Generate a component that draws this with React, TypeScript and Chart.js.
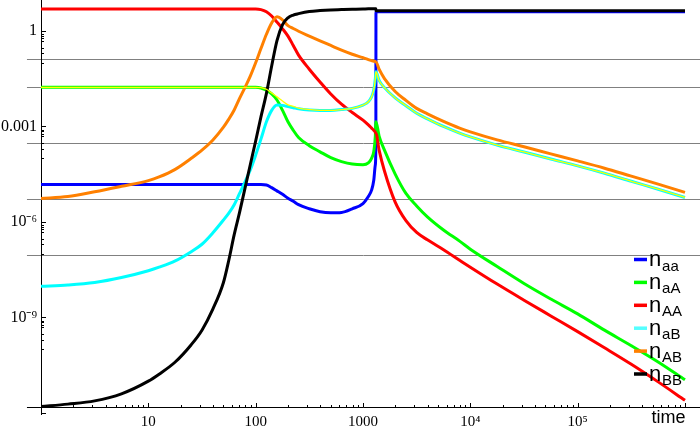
import { useEffect, useRef } from "react";
import { Chart, registerables } from "chart.js";

Chart.register(...registerables);

// time samples
const TIME = [
  1, 1.78, 3.16, 5.62, 10,
  12.6, 17.8, 25.1, 31.6, 39.8,
  50.1, 56.2, 63.1, 70.8, 79.4,
  89.1, 100, 112, 126, 141,
  158, 178, 200, 224, 251,
  316, 398, 501, 631, 794,
  1000, 1122, 1202, 1259, 1303,
  1318, 1321, 1413, 1585, 1995,
  2512, 3162, 3981, 5623, 7943,
  1e4, 17783, 31623, 56234, 1e5,
  177828, 316228, 562341, 1e6,
];

const N_aa = [
  1.5e-5, 1.5e-5, 1.5e-5, 1.5e-5, 1.5e-5,
  1.5e-5, 1.5e-5, 1.5e-5, 1.5e-5, 1.5e-5,
  1.5e-5, 1.5e-5, 1.5e-5, 1.5e-5, 1.5e-5,
  1.5e-5, 1.5e-5, 1.5e-5, 1.45e-5, 1.2e-5,
  9.5e-6, 7.4e-6, 5.6e-6, 4.5e-6, 3.5e-6,
  2.6e-6, 2.1e-6, 1.95e-6, 2.0e-6, 2.6e-6,
  3.8e-6, 6.3e-6, 1.0e-5, 2.0e-5, 6.3e-5,
  3.2e-4, 4.0, 4.0, 4.0, 4.0,
  4.0, 4.0, 4.0, 4.0, 4.0,
  4.0, 4.0, 4.0, 4.0, 4.0,
  4.0, 4.0, 4.0, 4.0,
];

const N_aA = [
  0.017, 0.017, 0.017, 0.017, 0.017,
  0.017, 0.017, 0.017, 0.017, 0.017,
  0.017, 0.017, 0.017, 0.017, 0.017,
  0.017, 0.017, 0.0162, 0.0138, 0.0105,
  0.0068, 0.0032, 0.0014, 7.6e-4, 4.5e-4,
  2.5e-4, 1.6e-4, 1.05e-4, 7.9e-5, 6.6e-5,
  6.3e-5, 7.2e-5, 1.0e-4, 1.6e-4, 5e-4,
  1.4e-3, 1.4e-3, 5e-4, 1.8e-4, 3.2e-5,
  7.9e-6, 3.2e-6, 1.45e-6, 5.6e-7, 2.5e-7,
  1.4e-7, 4.0e-8, 1.17e-8, 3.8e-9, 1.3e-9,
  4.0e-10, 1.3e-10, 4.0e-11, 1.1e-11,
];

const N_AA = [
  4.9, 4.9, 4.9, 4.9, 4.9,
  4.9, 4.9, 4.9, 4.9, 4.9,
  4.9, 4.9, 4.9, 4.9, 4.9,
  4.9, 4.9, 4.7, 4.0, 2.95,
  1.9, 1.17, 0.69, 0.35, 0.174,
  0.063, 0.025, 0.0105, 0.005, 0.00275,
  0.00158, 0.00112, 8.9e-4, 7.6e-4, 6.6e-4,
  6.0e-4, 6.0e-4, 1.8e-4, 4.0e-5, 4.2e-6,
  1.1e-6, 4.7e-7, 2.75e-7, 1.35e-7, 6.3e-8,
  3.8e-8, 1.12e-8, 3.5e-9, 1.12e-9, 3.6e-10,
  1.12e-10, 3.4e-11, 9.5e-12, 2.5e-12,
];

const N_aB = [
  9.5e-9, 1.05e-8, 1.26e-8, 1.8e-8, 2.95e-8,
  3.8e-8, 6.0e-8, 1.17e-7, 2.0e-7, 4.5e-7,
  1.15e-6, 1.9e-6, 3.5e-6, 7.9e-6, 1.8e-5,
  4.3e-5, 1.26e-4, 4.0e-4, 0.0014, 0.0032,
  0.0047, 0.0046, 0.0042, 0.0039, 0.0036,
  0.0033, 0.0032, 0.0032, 0.0034, 0.0037,
  0.0047, 0.006, 0.0085, 0.014, 0.032,
  0.052, 0.052, 0.028, 0.0166, 0.0079,
  0.0045, 0.0026, 0.00174, 0.001, 6.2e-4,
  4.7e-4, 2.6e-4, 1.58e-4, 9.5e-5, 5.8e-5,
  3.4e-5, 1.9e-5, 1.07e-5, 5.9e-6,
];

const N_AB = [
  5.5e-6, 6.3e-6, 8.9e-6, 1.32e-5, 2.0e-5,
  2.6e-5, 4.5e-5, 1.0e-4, 1.8e-4, 3.7e-4,
  0.00095, 0.0017, 0.0033, 0.0076, 0.0166,
  0.038, 0.1, 0.28, 0.79, 1.78,
  2.8, 2.24, 1.48, 1.2, 0.98,
  0.69, 0.49, 0.35, 0.25, 0.186,
  0.145, 0.126, 0.117, 0.112, 0.11,
  0.107, 0.107, 0.063, 0.032, 0.0126,
  0.0066, 0.0037, 0.0025, 0.00145, 8.9e-4,
  6.8e-4, 3.8e-4, 2.3e-4, 1.38e-4, 8.3e-5,
  4.9e-5, 2.75e-5, 1.55e-5, 8.5e-6,
];

const N_BB = [
  1.6e-12, 1.9e-12, 2.4e-12, 4.0e-12, 1.0e-11,
  1.66e-11, 4.0e-11, 1.4e-10, 4.0e-10, 1.8e-9,
  1.26e-8, 6.3e-8, 4.0e-7, 2.0e-6, 1.12e-5,
  6.3e-5, 3.5e-4, 0.002, 0.011, 0.079,
  0.5, 1.58, 2.6, 3.16, 3.5,
  4.1, 4.4, 4.6, 4.7, 4.8,
  4.9, 5.0, 5.0, 5.0, 5.0,
  5.0, 4.3, 4.3, 4.3, 4.3,
  4.3, 4.3, 4.3, 4.3, 4.3,
  4.3, 4.3, 4.3, 4.3, 4.3,
  4.3, 4.3, 4.3, 4.3,
];

// thin yellow trace (not in legend)
const N_TRACE = [
  0.017, 0.017, 0.017, 0.017, 0.017,
  0.017, 0.017, 0.017, 0.017, 0.017,
  0.017, 0.017, 0.017, 0.017, 0.017,
  0.017, 0.017, 0.0166, 0.0148, 0.0112,
  0.0085, 0.0063, 0.0048, 0.0043, 0.0038,
  0.0034, 0.0032, 0.0032, 0.0034, 0.0037,
  0.0047, 0.006, 0.0085, 0.014, 0.032,
  0.052, 0.052, 0.028, 0.0166, 0.0079,
  0.0045, 0.0026, 0.00174, 0.001, 6.2e-4,
  4.7e-4, 2.6e-4, 1.58e-4, 9.5e-5, 5.8e-5,
  3.4e-5, 1.9e-5, 1.07e-5, 5.9e-6,
];

const SERIES = [N_aa, N_aA, N_AA, N_aB, N_AB, N_BB];
const SERIES_SUBS = ["aa", "aA", "AA", "aB", "AB", "BB"];
const SERIES_COLORS = ["#0000ff", "#00ff00", "#ff0000", "#00ffff", "#ff8000", "#000000"];
const LEGEND_COLORS = ["#0000ff", "#00ff00", "#ff0000", "#55ffff", "#ff8000", "#000000"];
const SERIES_ORDER = [6, 5, 4, 3, 2, 1];
const TRACE_COLOR = "#ffff00";

const X_TICKS = [10, 100, 1000, 1e4, 1e5];
const X_TICK_LABELS = ["10", "100", "1000", "10\u2074", "10\u2075"];
const Y_TICKS = [1e-9, 1e-6, 1e-3, 1];
const Y_TICK_LABELS = ["10\u207B\u2079", "10\u207B\u2076", "0.001", "1"];
const Y_MAJOR_MARKS = [1, 1e-3, 1e-6, 1e-9, 1e-12];
const Y_MINOR_FACTORS = [0.8, 0.7, 0.6, 0.5, 0.3, 0.2, 0.1];
const X_DECADES = [1, 10, 100, 1000, 1e4, 1e5, 1e6];
const X_MINOR_FACTORS = [2, 3, 4, 5, 6, 7, 8, 9];
const GRID_LEVELS = [0.1318, 0.01738, 3.02e-4, 5.25e-6, 9.12e-8];

const X_MIN = 1;
const X_MAX = 1.38e6;
const Y_MIN = 1e-12;
const Y_MAX = 9.4;
const AXIS_CROSS_Y = 1.6e-12;
const AXIS_X_START = 0.74;

const SERIF = "'Liberation Serif', 'Times New Roman', serif";
const SANS = "'Liberation Sans', Arial, Helvetica, sans-serif";

const decorPlugin = {
  id: "decor",
  beforeDatasetsDraw(chart: any) {
    const ctx = chart.ctx;
    const xs = chart.scales.x;
    const ys = chart.scales.y;
    const left = xs.getPixelForValue(AXIS_X_START);
    const right = chart.width;
    ctx.save();
    ctx.lineWidth = 1;
    ctx.strokeStyle = "#808080";
    GRID_LEVELS.forEach((v) => {
      const py = Math.round(ys.getPixelForValue(v)) + 0.5;
      ctx.beginPath();
      ctx.moveTo(left, py);
      ctx.lineTo(right, py);
      ctx.stroke();
    });
    ctx.strokeStyle = "#000";
    const ax = Math.round(xs.getPixelForValue(1)) + 0.5;
    const ay = Math.round(ys.getPixelForValue(AXIS_CROSS_Y)) + 0.5;
    ctx.beginPath();
    ctx.moveTo(left, ay);
    ctx.lineTo(right, ay);
    ctx.stroke();
    const ybot = ys.getPixelForValue(Y_MIN) + 2;
    ctx.beginPath();
    ctx.moveTo(ax, 0);
    ctx.lineTo(ax, ybot);
    ctx.stroke();
    // x ticks (pointing up)
    X_DECADES.forEach((d) => {
      if (d > 1) {
        const px = Math.round(xs.getPixelForValue(d)) + 0.5;
        ctx.beginPath();
        ctx.moveTo(px, ay);
        ctx.lineTo(px, ay - 4.5);
        ctx.stroke();
      }
      X_MINOR_FACTORS.forEach((m) => {
        const v = d * m;
        if (v > X_MAX) return;
        const px = Math.round(xs.getPixelForValue(v)) + 0.5;
        ctx.beginPath();
        ctx.moveTo(px, ay);
        ctx.lineTo(px, ay - 2.5);
        ctx.stroke();
      });
    });
    // y ticks (pointing right)
    Y_MAJOR_MARKS.forEach((d) => {
      const py = Math.round(ys.getPixelForValue(d)) + 0.5;
      ctx.beginPath();
      ctx.moveTo(ax, py);
      ctx.lineTo(ax + 4.5, py);
      ctx.stroke();
      Y_MINOR_FACTORS.forEach((f) => {
        const v = d * f;
        if (v < Y_MIN) return;
        const p = Math.round(ys.getPixelForValue(v)) + 0.5;
        ctx.beginPath();
        ctx.moveTo(ax, p);
        ctx.lineTo(ax + 2.5, p);
        ctx.stroke();
      });
    });
    ctx.restore();
  },
  afterDraw(chart: any) {
    const ctx = chart.ctx;
    ctx.save();
    ctx.textAlign = "left";
    ctx.textBaseline = "alphabetic";
    SERIES_SUBS.forEach((sub, i) => {
      const cy = 259.5 + i * 22.9;
      ctx.fillStyle = LEGEND_COLORS[i];
      ctx.fillRect(634, cy - 1.75, 13, 3.5);
      ctx.fillStyle = "#000";
      ctx.font = `22px ${SANS}`;
      ctx.fillText("n", 649, cy + 6.7);
      const w = ctx.measureText("n").width;
      ctx.font = `15px ${SANS}`;
      ctx.fillText(sub, 649 + w + 0.8, cy + 11);
    });
    ctx.font = `18px ${SANS}`;
    ctx.fillStyle = "#000";
    ctx.fillText("time", 651.5, 423);
    ctx.restore();
  },
};

export default function App() {
  const ref = useRef<HTMLCanvasElement | null>(null);

  useEffect(() => {
    if (!ref.current) return;
    const datasets: any[] = SERIES.map((vals, i) => ({
      label: "n" + SERIES_SUBS[i],
      data: TIME.map((t, j) => ({ x: t, y: vals[j] })),
      borderColor: SERIES_COLORS[i],
      backgroundColor: SERIES_COLORS[i],
      borderWidth: 3,
      pointRadius: 0,
      fill: false,
      cubicInterpolationMode: "monotone",
      order: SERIES_ORDER[i],
    }));
    datasets.push({
      label: "trace",
      data: TIME.map((t, j) => ({ x: t, y: N_TRACE[j] })),
      borderColor: TRACE_COLOR,
      backgroundColor: TRACE_COLOR,
      borderWidth: 1.3,
      pointRadius: 0,
      fill: false,
      cubicInterpolationMode: "monotone",
      order: 0,
    });

    const chart = new Chart(ref.current, {
      type: "line",
      data: { datasets },
      options: {
        responsive: false,
        animation: false,
        layout: { padding: 0 },
        plugins: { legend: { display: false }, tooltip: { enabled: false } },
        scales: {
          x: {
            type: "logarithmic",
            min: X_MIN,
            max: X_MAX,
            border: { display: false },
            grid: { display: false, drawTicks: false },
            ticks: {
              autoSkip: false,
              maxRotation: 0,
              padding: 0,
              color: "#000",
              font: { family: SERIF, size: 15 },
              callback: (_v: any, i: number) => X_TICK_LABELS[i],
            },
            afterBuildTicks: (s: any) => {
              s.ticks = X_TICKS.map((v) => ({ value: v }));
            },
            afterFit: (s: any) => {
              s.height = 20;
              s.paddingLeft = 0;
              s.paddingRight = 0;
            },
          },
          y: {
            type: "logarithmic",
            min: Y_MIN,
            max: Y_MAX,
            border: { display: false },
            grid: { display: false, drawTicks: false },
            ticks: {
              autoSkip: false,
              padding: 4,
              color: "#000",
              font: { family: SERIF, size: 16 },
              callback: (_v: any, i: number) => Y_TICK_LABELS[i],
            },
            afterBuildTicks: (s: any) => {
              s.ticks = Y_TICKS.map((v) => ({ value: v }));
            },
            afterFit: (s: any) => {
              s.width = 41;
              s.paddingTop = 0;
              s.paddingBottom = 0;
            },
          },
        },
      } as any,
      plugins: [decorPlugin],
    });
    return () => chart.destroy();
  }, []);

  return (
    <div style={{ position: "absolute", left: 0, top: 0, width: 700, height: 433, background: "#fff" }}>
      <canvas ref={ref} width={700} height={433} style={{ display: "block" }} />
    </div>
  );
}
